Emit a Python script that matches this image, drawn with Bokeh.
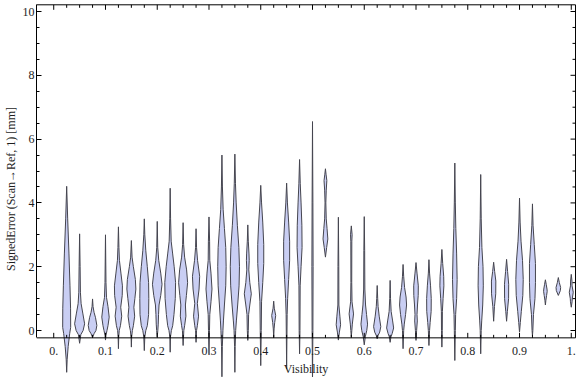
import numpy as np
from bokeh.plotting import figure
from bokeh.models import Range1d, SingleIntervalTicker
from bokeh.embed import file_html
from bokeh.resources import INLINE
from bokeh.core.properties import value

# ---------------- data ----------------
VISIBILITY = [0.025, 0.05, 0.075, 0.1, 0.125, 0.15, 0.175, 0.2, 0.225, 0.25,
              0.275, 0.3, 0.325, 0.35, 0.375, 0.4, 0.425, 0.45, 0.475, 0.5,
              0.525, 0.55, 0.575, 0.6, 0.625, 0.65, 0.675, 0.7, 0.725, 0.75,
              0.775, 0.825, 0.85, 0.875, 0.9, 0.925, 0.95, 0.975, 1.0]

# violin profiles: (signed error [mm], density) from top to bottom
PROFILES = [
    [(4.52, 0), (3.5, 1.0), (2.4, 2.3), (1.4, 3.3), (0.7, 3.9), (0.1, 4.0), (-0.1, 3.0), (-0.5, 1.5), (-0.9, 0.5), (-1.31, 0)],
    [(3.03, 0), (2.0, 0.5), (1.2, 0.8), (0.84, 1.5), (0.52, 3.3), (0.21, 5.0), (0.0, 3.5), (-0.13, 1.2), (-0.4, 0)],
    [(0.99, 0), (0.75, 0.5), (0.57, 1.5), (0.4, 3.0), (0.16, 4.3), (0.0, 3.4), (-0.1, 1.5), (-0.22, 0)],
    [(3.0, 0), (1.5, 0.5), (1.04, 1.0), (0.75, 2.5), (0.42, 3.7), (0.15, 2.5), (0.0, 1.5), (-0.15, 0.5), (-0.3, 0)],
    [(3.25, 0), (2.6, 0.5), (2.2, 1.0), (1.8, 2.5), (1.4, 4.0), (1.1, 3.8), (0.73, 2.3), (0.45, 3.3), (0.15, 2.0), (0.0, 0.8), (-0.2, 0.3), (-0.57, 0)],
    [(2.82, 0), (2.3, 0.7), (2.0, 2.0), (1.6, 4.0), (1.3, 4.5), (1.0, 3.5), (0.73, 2.5), (0.45, 3.3), (0.15, 2.0), (0.0, 1.0), (-0.2, 0.3), (-0.52, 0)],
    [(3.5, 0), (3.0, 0.5), (2.5, 1.5), (2.0, 3.0), (1.5, 4.3), (1.0, 4.5), (0.5, 4.3), (0.15, 3.0), (0.0, 1.5), (-0.2, 0.5), (-0.63, 0)],
    [(3.42, 0), (2.6, 0.5), (2.2, 1.5), (1.8, 3.5), (1.45, 4.8), (1.1, 3.5), (0.8, 1.8), (0.5, 1.3), (0.2, 1.0), (0.0, 0.6), (-0.2, 0)],
    [(4.46, 0), (3.5, 0.4), (2.8, 1.0), (2.4, 2.5), (2.0, 4.0), (1.5, 5.4), (1.0, 5.1), (0.5, 3.8), (0.15, 2.5), (0.0, 1.2), (-0.2, 0.3), (-0.68, 0)],
    [(3.38, 0), (2.7, 0.5), (2.3, 1.5), (1.9, 3.5), (1.5, 4.5), (1.1, 3.3), (0.8, 2.3), (0.45, 2.8), (0.15, 1.5), (0.0, 0.7), (-0.47, 0)],
    [(3.19, 0), (2.6, 0.5), (2.2, 1.5), (1.7, 3.6), (1.3, 3.0), (0.85, 1.3), (0.45, 2.5), (0.15, 1.3), (0.0, 0.5), (-0.37, 0)],
    [(3.56, 0), (2.8, 0.6), (2.2, 0.8), (1.8, 2.0), (1.3, 3.0), (0.9, 2.0), (0.5, 0.8), (0.0, 0.5), (-0.73, 0)],
    [(5.5, 0), (4.5, 0.5), (3.8, 1.2), (3.2, 2.5), (2.6, 3.8), (2.0, 4.2), (1.4, 3.8), (0.8, 2.5), (0.3, 1.5), (0.0, 1.0), (-0.5, 0.4), (-1.45, 0)],
    [(5.53, 0), (4.6, 0.6), (4.0, 1.3), (3.3, 2.5), (2.6, 4.0), (2.0, 4.6), (1.4, 4.2), (0.8, 2.8), (0.3, 1.5), (0.0, 0.8), (-0.5, 0.3), (-1.31, 0)],
    [(3.31, 0), (2.8, 0.5), (2.4, 1.2), (2.2, 1.4), (1.9, 1.0), (1.5, 2.0), (1.15, 3.5), (0.8, 2.0), (0.5, 0.8), (0.0, 0.5), (-0.31, 0)],
    [(4.55, 0), (4.0, 0.8), (3.4, 2.0), (2.7, 3.0), (2.1, 3.0), (1.5, 2.0), (0.9, 0.8), (0.0, 0.5), (-1.1, 0)],
    [(0.92, 0), (0.7, 0.6), (0.47, 2.0), (0.25, 1.0), (0.05, 0.4), (-0.22, 0)],
    [(4.62, 0), (4.0, 0.8), (3.4, 2.0), (2.8, 3.0), (2.2, 3.0), (1.6, 2.0), (1.0, 1.0), (0.5, 0.5), (-1.2, 0)],
    [(5.36, 0), (4.6, 0.7), (4.0, 1.5), (3.3, 2.3), (2.6, 2.5), (2.0, 1.5), (1.4, 0.6), (0.0, 0.4), (-0.73, 0)],
    [(6.55, 0), (4.0, 0.4), (2.0, 0.6), (0.0, 0.4), (-1.55, 0)],
    [(5.07, 0), (4.9, 0.6), (4.7, 1.4), (4.4, 0.8), (4.0, 0.4), (3.5, 0.8), (3.2, 1.6), (2.87, 2.4), (2.6, 1.2), (2.3, 0)],
    [(3.55, 0), (2.0, 0.4), (0.8, 0.5), (0.45, 1.5), (0.18, 2.2), (-0.05, 1.0), (-0.3, 0)],
    [(3.28, 0), (3.0, 0.8), (2.8, 0.5), (1.5, 0.4), (0.9, 0.7), (0.52, 2.2), (0.2, 1.0), (0.0, 0.5), (-0.2, 0)],
    [(3.57, 0), (2.5, 0.4), (1.3, 0.6), (0.8, 1.3), (0.5, 2.3), (0.2, 3.3), (0.0, 2.5), (-0.2, 1.0), (-0.45, 0)],
    [(1.41, 0), (1.0, 0.5), (0.75, 0.9), (0.45, 2.0), (0.12, 3.6), (-0.05, 2.5), (-0.15, 1.0), (-0.26, 0)],
    [(1.57, 0), (1.0, 0.4), (0.6, 1.0), (0.3, 2.5), (0.08, 3.5), (-0.1, 2.0), (-0.2, 0.8), (-0.37, 0)],
    [(2.07, 0), (1.7, 0.6), (1.35, 1.5), (1.05, 3.0), (0.8, 3.5), (0.5, 2.5), (0.2, 1.2), (0.0, 0.6), (-0.57, 0)],
    [(2.13, 0), (1.8, 1.0), (1.4, 2.3), (1.1, 2.2), (0.8, 1.5), (0.5, 1.0), (0.3, 1.3), (0.0, 0.6), (-0.31, 0)],
    [(2.22, 0), (1.8, 0.6), (1.4, 1.6), (1.0, 2.3), (0.6, 2.2), (0.25, 1.2), (0.0, 0.6), (-0.47, 0)],
    [(2.54, 0), (2.1, 0.8), (1.7, 1.8), (1.4, 2.0), (1.0, 1.2), (0.6, 0.5), (0.0, 0.4), (-0.52, 0)],
    [(5.25, 0), (4.0, 0.5), (3.2, 1.0), (2.4, 1.8), (1.6, 2.3), (1.0, 1.8), (0.5, 0.8), (0.0, 0.5), (-0.94, 0)],
    [(4.89, 0), (3.5, 0.5), (2.6, 1.2), (2.0, 2.3), (1.4, 2.6), (0.8, 2.0), (0.3, 1.0), (0.0, 0.5), (-0.73, 0)],
    [(2.14, 0), (1.85, 1.0), (1.55, 2.2), (1.15, 2.1), (0.75, 0.8), (0.29, 0)],
    [(2.23, 0), (1.85, 1.0), (1.45, 2.1), (1.0, 2.0), (0.6, 0.8), (0.29, 0)],
    [(4.15, 0), (3.4, 0.6), (2.8, 1.5), (2.2, 3.0), (1.6, 3.7), (1.1, 3.3), (0.6, 1.8), (0.25, 0.8), (-0.05, 0)],
    [(3.97, 0), (3.3, 0.6), (2.7, 1.8), (2.1, 3.0), (1.5, 3.0), (1.0, 2.5), (0.5, 1.0), (0.0, 0.4), (-0.16, 0)],
    [(1.59, 0), (1.45, 0.8), (1.3, 1.6), (1.23, 1.8), (1.1, 1.2), (0.95, 0.5), (0.8, 0)],
    [(1.66, 0), (1.5, 1.0), (1.35, 2.3), (1.25, 2.0), (1.1, 0)],
    [(1.76, 0), (1.55, 0.7), (1.4, 0.8), (1.2, 2.0), (1.0, 1.0), (0.9, 0.8), (0.73, 0)],
]

XTICKS = [0.0, 0.1, 0.2, 0.3, 0.4, 0.5, 0.6, 0.7, 0.8, 0.9, 1.0]
XTICK_LABELS = ["0.", "0.1", "0.2", "0.3", "0.4", "0.5", "0.6", "0.7", "0.8", "0.9", "1."]
YTICKS = [0, 2, 4, 6, 8, 10]

X_LABEL = "Visibility"
Y_LABEL = "SignedError (Scan\u2192Ref, 1) [mm]"

# ---------------- styling / geometry ----------------
FONT = "Liberation Serif"
FILL = "#C9CEF3"
EDGE = "#45454f"
TXT = "#1e1e1e"

X_LO, X_HI = -0.0333, 1.0082      # frame (plot-range) edges
Y_LO, Y_HI = -0.23, 10.21
DENSITY_SCALE = 1.0 / 517.5        # density units -> x units

p = figure(width=576, height=377, output_backend="svg", toolbar_location=None,
           x_range=Range1d(X_LO, 1.0101), y_range=Range1d(-1.473, 10.345),
           x_axis_location=None, y_axis_location="left",
           min_border_left=0, min_border_right=0, min_border_top=0, min_border_bottom=0)
p.outline_line_color = None
p.grid.visible = False
p.background_fill_color = "white"
p.border_fill_color = "white"

# left axis (Bokeh axis, restricted to the frame)
ya = p.yaxis[0]
ya.ticker = SingleIntervalTicker(interval=2, num_minor_ticks=4)
ya.bounds = (Y_LO, Y_HI)
ya.axis_line_color = "black"
ya.major_tick_in = 5
ya.major_tick_out = 0
ya.minor_tick_in = 3
ya.minor_tick_out = 0
ya.major_tick_line_color = "black"
ya.minor_tick_line_color = "black"
ya.major_label_standoff = 2
ya.major_label_text_font = FONT
ya.major_label_text_font_size = "12px"
ya.major_label_text_color = TXT
ya.axis_label = Y_LABEL
ya.axis_label_text_font = FONT
ya.axis_label_text_font_style = "normal"
ya.axis_label_text_font_size = "12px"
ya.axis_label_text_color = TXT
ya.axis_label_standoff = 2

# ---------------- violins ----------------
xs_all, ys_all = [], []
for c, prof in zip(VISIBILITY, PROFILES):
    err = [e for e, _ in prof]
    den = [d for _, d in prof]
    right = [c + d * DENSITY_SCALE for d in den]
    left = [c - d * DENSITY_SCALE for d in den]
    xs_all.append(right + left[::-1])
    ys_all.append(err + err[::-1])
p.patches(xs_all, ys_all, fill_color=FILL, line_color=EDGE, line_width=1)

# ---------------- frame: bottom, top, right ----------------
p.segment(x0=[X_LO, X_LO, X_HI], y0=[Y_LO, Y_HI, Y_LO],
          x1=[X_HI, X_HI, X_HI], y1=[Y_LO, Y_HI, Y_HI],
          line_color="black", line_width=1)

xminor = [t for t in np.round(np.arange(0, 1.0001, 0.025), 3) if round(t * 10, 6) % 1 != 0]
yminor = [t for t in np.arange(0, 10.01, 0.5) if t % 2 != 0]

# bottom ticks (pointing up)
p.ray(x=XTICKS, y=[Y_LO] * len(XTICKS), length=5, angle=np.pi / 2, length_units="screen", line_color="black")
p.ray(x=xminor, y=[Y_LO] * len(xminor), length=3, angle=np.pi / 2, length_units="screen", line_color="black")
# top ticks (pointing down)
p.ray(x=XTICKS, y=[Y_HI] * len(XTICKS), length=5, angle=-np.pi / 2, length_units="screen", line_color="black")
p.ray(x=xminor, y=[Y_HI] * len(xminor), length=3, angle=-np.pi / 2, length_units="screen", line_color="black")
# right ticks (pointing left)
p.ray(x=[X_HI] * len(YTICKS), y=YTICKS, length=5, angle=np.pi, length_units="screen", line_color="black")
p.ray(x=[X_HI] * len(yminor), y=yminor, length=3, angle=np.pi, length_units="screen", line_color="black")

# bottom tick labels and axis title
p.text(x=XTICKS, y=[Y_LO] * len(XTICKS), text=XTICK_LABELS, text_align="center",
       text_baseline="middle", y_offset=13, text_font=value(FONT),
       text_font_size="12px", text_color=TXT)
p.text(x=[(X_LO + X_HI) / 2], y=[Y_LO], text=[X_LABEL], text_align="center",
       text_baseline="middle", y_offset=31, text_font=value(FONT),
       text_font_size="12px", text_color=TXT)

open("out.html", "w").write(file_html(p, INLINE))
